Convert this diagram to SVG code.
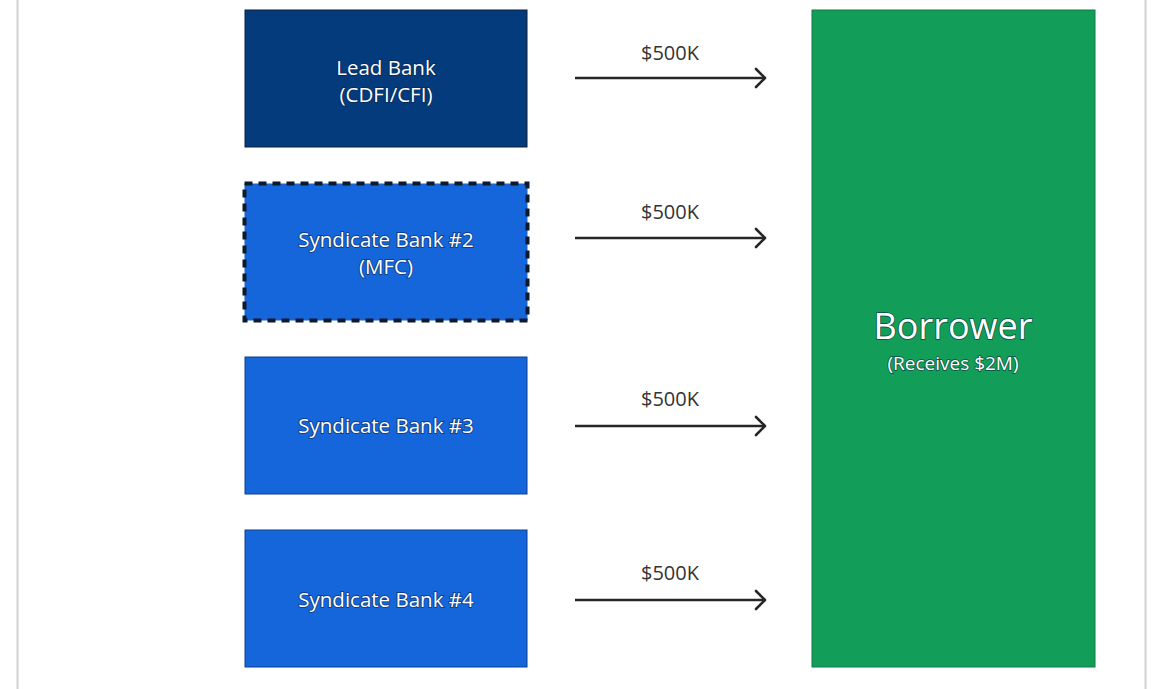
<svg xmlns="http://www.w3.org/2000/svg" width="1158" height="689" viewBox="0 0 1158 689">
  <style>
    .node-text { font-family: "Open Sans", "Noto Sans", "DejaVu Sans", sans-serif; fill: #ffffff; text-anchor: middle; paint-order: stroke; stroke: #0b1f3f; stroke-opacity: 0.55; stroke-width: 1.8; }
    .label { font-family: "Open Sans", "Noto Sans", sans-serif; font-size: 20px; fill: #333333; text-anchor: middle; }
    .flow { stroke: #262626; stroke-width: 2.6; fill: none; marker-end: url(#chev); }
  </style>
  <defs>
    <marker id="chev" markerWidth="14" markerHeight="22" refX="11" refY="11" orient="auto" markerUnits="userSpaceOnUse">
      <path d="M2,2 L11,11 L2,20" fill="none" stroke="#262626" stroke-width="2.6" stroke-linecap="round" stroke-linejoin="round"/>
    </marker>
  </defs>

  <!-- page card -->
  <rect x="0" y="0" width="1158" height="689" fill="#ffffff"/>
  <line x1="17.5" y1="0" x2="17.5" y2="689" stroke="#d2d2d2" stroke-width="2"/>
  <line x1="1145.5" y1="0" x2="1145.5" y2="689" stroke="#d2d2d2" stroke-width="2"/>

  <g id="lead-bank">
    <rect x="245" y="10" width="282" height="137" fill="#043b7c" stroke="#0f1f38" stroke-width="1"/>
    <text class="node-text" x="386" y="75" font-size="20.5">Lead Bank</text>
    <text class="node-text" x="386" y="102" font-size="20.5">(CDFI/CFI)</text>
  </g>

  <g id="syndicate-bank-2">
    <rect x="244.5" y="183.5" width="283" height="137" fill="#1565db" stroke="#0d1a2e" stroke-width="4" stroke-dasharray="8,6"/>
    <text class="node-text" x="386" y="247" font-size="20.5">Syndicate Bank #2</text>
    <text class="node-text" x="386" y="274" font-size="20.5">(MFC)</text>
  </g>

  <g id="syndicate-bank-3">
    <rect x="245" y="357" width="282" height="137" fill="#1565db" stroke="#0f3f8a" stroke-width="1"/>
    <text class="node-text" x="386" y="433" font-size="20.5">Syndicate Bank #3</text>
  </g>

  <g id="syndicate-bank-4">
    <rect x="245" y="530" width="282" height="137" fill="#1565db" stroke="#0f3f8a" stroke-width="1"/>
    <text class="node-text" x="386" y="607" font-size="20.5">Syndicate Bank #4</text>
  </g>

  <g id="borrower">
    <rect x="812" y="10" width="283" height="657" fill="#129e58" stroke="#0e7a44" stroke-width="1"/>
    <text class="node-text" x="953" y="339" font-size="36" stroke-opacity="0.35">Borrower</text>
    <text class="node-text" x="953" y="370" font-size="19" stroke-opacity="0.35">(Receives $2M)</text>
  </g>

  <g id="connectors">
    <line class="flow" x1="575" y1="78" x2="765" y2="78"/>
    <line class="flow" x1="575" y1="238" x2="765" y2="238"/>
    <line class="flow" x1="575" y1="426" x2="765" y2="426"/>
    <line class="flow" x1="575" y1="600" x2="765" y2="600"/>
    <text class="label" x="670" y="60">$500K</text>
    <text class="label" x="670" y="219">$500K</text>
    <text class="label" x="670" y="406">$500K</text>
    <text class="label" x="670" y="580">$500K</text>
  </g>
</svg>
